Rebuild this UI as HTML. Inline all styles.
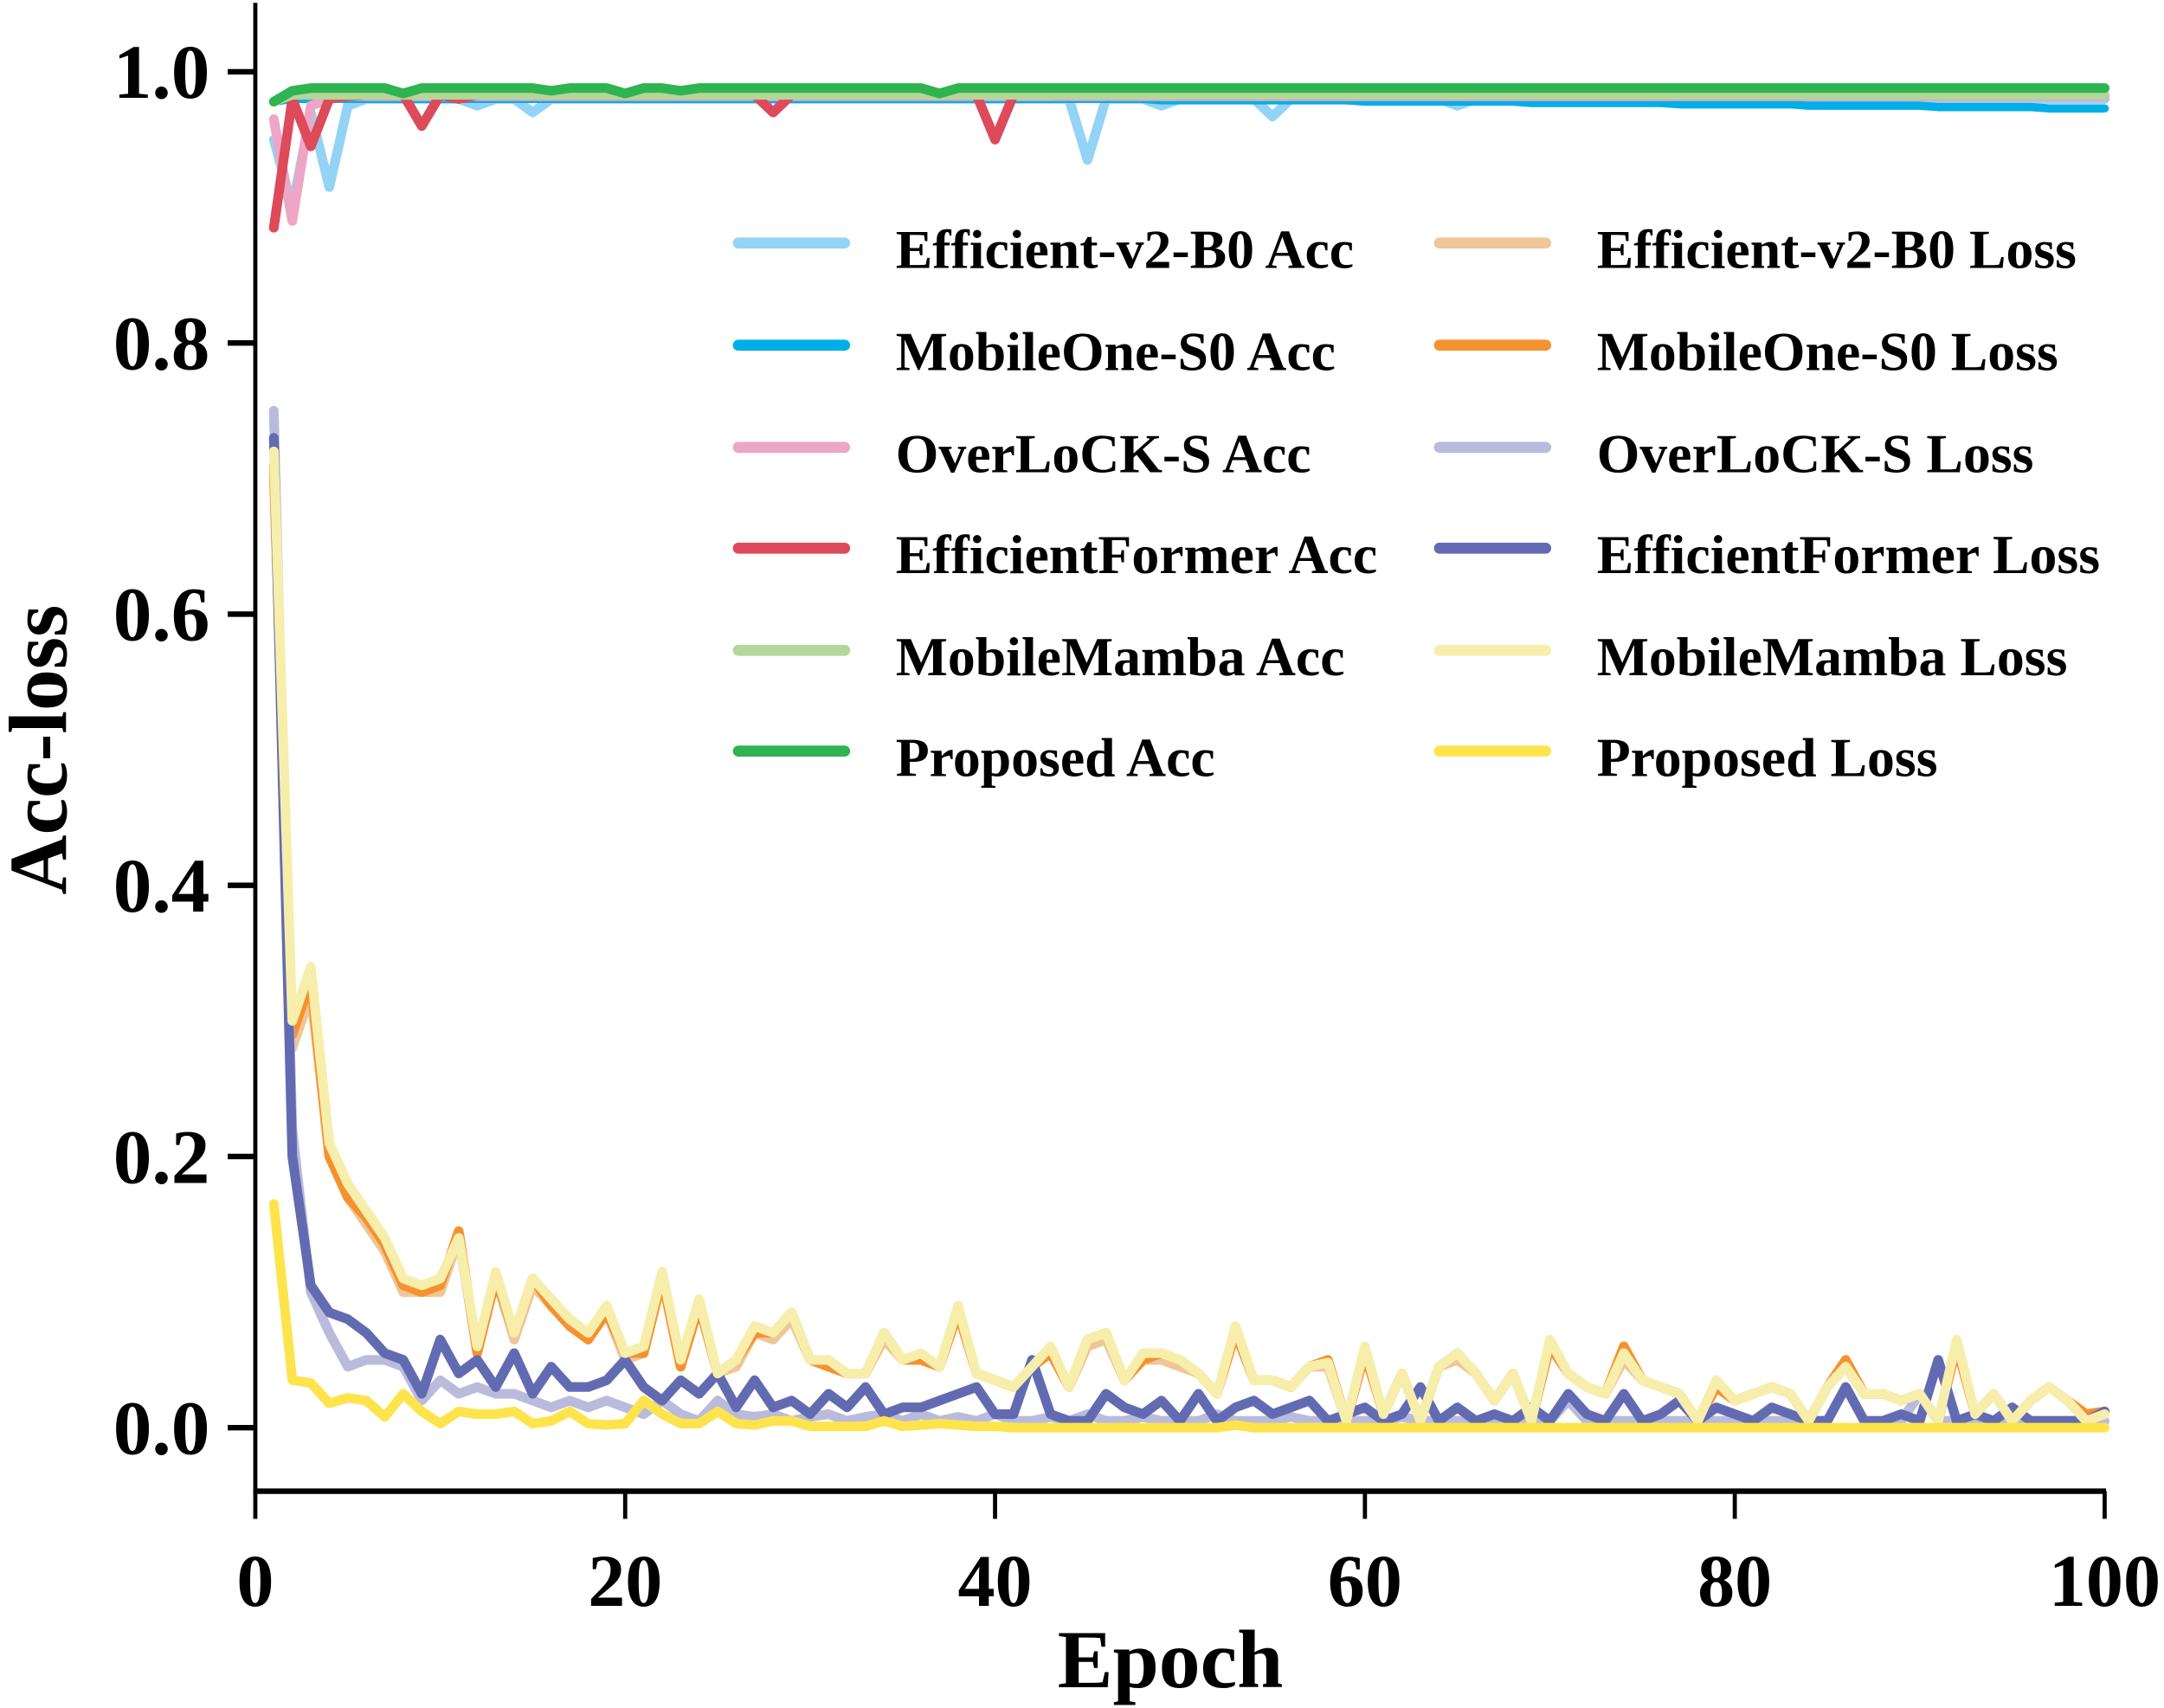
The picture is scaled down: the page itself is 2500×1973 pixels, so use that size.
<!DOCTYPE html>
<html><head><meta charset="utf-8"><style>
html,body{margin:0;padding:0;background:#fff;}
svg{display:block;}
text{font-family:"Liberation Serif",serif;font-weight:bold;fill:#000;}
</style></head><body>
<svg id="chart" width="2500" height="1973" viewBox="0 0 1568 1237" preserveAspectRatio="none" xmlns="http://www.w3.org/2000/svg">
<g id="series"></g>
<g id="axes"></g>
<g id="legend"></g>
</svg>
<script>
const xTicks=[0,20,40,60,80,100];
const yTicks=[0.0,0.2,0.4,0.6,0.8,1.0];
const yTickLabels=["0.0","0.2","0.4","0.6","0.8","1.0"];
const effAcc=[0.95,0.9,0.97,0.915,0.975,0.98,0.98,0.98,0.98,0.98,0.98,0.975,0.98,0.98,0.97,0.98,0.98,0.98,0.98,0.98,0.98,0.98,0.98,0.98,0.98,0.98,0.98,0.98,0.98,0.98,0.98,0.98,0.98,0.98,0.98,0.98,0.98,0.98,0.98,0.98,0.98,0.98,0.98,0.98,0.935,0.98,0.98,0.98,0.975,0.98,0.98,0.98,0.98,0.98,0.967,0.98,0.98,0.98,0.98,0.98,0.98,0.98,0.98,0.98,0.975,0.98,0.98,0.98,0.98,0.98,0.98,0.98,0.98,0.98,0.98,0.98,0.98,0.98,0.98,0.98,0.98,0.98,0.98,0.98,0.98,0.98,0.98,0.98,0.98,0.98,0.98,0.98,0.98,0.98,0.98,0.98,0.98,0.98,0.98,0.98];
const mobAcc=[0.978,0.98,0.98,0.98,0.98,0.98,0.98,0.98,0.98,0.98,0.98,0.98,0.98,0.98,0.98,0.98,0.98,0.98,0.98,0.98,0.98,0.98,0.98,0.98,0.98,0.98,0.98,0.98,0.98,0.98,0.98,0.98,0.98,0.98,0.98,0.98,0.98,0.98,0.98,0.98,0.98,0.98,0.98,0.98,0.98,0.98,0.98,0.98,0.979,0.979,0.979,0.979,0.979,0.979,0.979,0.979,0.979,0.979,0.979,0.978,0.978,0.978,0.978,0.978,0.978,0.978,0.978,0.978,0.977,0.977,0.977,0.977,0.977,0.977,0.977,0.977,0.976,0.976,0.976,0.976,0.976,0.976,0.976,0.975,0.975,0.975,0.975,0.975,0.975,0.975,0.974,0.974,0.974,0.974,0.974,0.974,0.973,0.973,0.973,0.973];
const overAcc=[0.965,0.89,0.975,0.98,0.982,0.982,0.982,0.982,0.982,0.982,0.982,0.982,0.982,0.982,0.982,0.982,0.982,0.982,0.982,0.982,0.982,0.982,0.982,0.982,0.982,0.982,0.982,0.982,0.982,0.982,0.982,0.982,0.982,0.982,0.982,0.982,0.982,0.982,0.982,0.982,0.982,0.982,0.982,0.982,0.982,0.982,0.982,0.982,0.982,0.982,0.982,0.982,0.982,0.982,0.982,0.982,0.982,0.982,0.982,0.982,0.982,0.982,0.982,0.982,0.982,0.982,0.982,0.982,0.982,0.982,0.982,0.982,0.982,0.982,0.982,0.982,0.982,0.982,0.982,0.982,0.982,0.982,0.982,0.982,0.982,0.982,0.982,0.982,0.982,0.982,0.982,0.982,0.982,0.982,0.982,0.982,0.982,0.982,0.982,0.982];
const formerAcc=[0.885,0.98,0.945,0.98,0.982,0.983,0.983,0.983,0.96,0.983,0.98,0.983,0.983,0.983,0.983,0.983,0.983,0.983,0.983,0.983,0.983,0.983,0.983,0.983,0.983,0.983,0.983,0.97,0.983,0.983,0.983,0.983,0.983,0.983,0.983,0.983,0.983,0.983,0.983,0.95,0.983,0.988,0.983,0.983,0.983,0.983,0.983,0.983,0.983,0.983,0.983,0.983,0.983,0.983,0.983,0.983,0.983,0.983,0.983,0.983,0.983,0.983,0.983,0.983,0.983,0.983,0.983,0.983,0.983,0.983,0.983,0.983,0.983,0.983,0.983,0.983,0.983,0.983,0.983,0.983,0.983,0.983,0.983,0.983,0.983,0.983,0.983,0.983,0.983,0.983,0.983,0.983,0.983,0.983,0.983,0.983,0.983,0.983,0.983,0.983];
const mambaAcc=[0.978,0.983,0.983,0.983,0.983,0.983,0.983,0.983,0.983,0.983,0.983,0.983,0.983,0.983,0.983,0.983,0.983,0.983,0.983,0.983,0.983,0.983,0.983,0.983,0.983,0.983,0.983,0.983,0.983,0.983,0.983,0.983,0.983,0.983,0.983,0.983,0.983,0.983,0.983,0.983,0.983,0.983,0.983,0.983,0.983,0.983,0.983,0.983,0.983,0.983,0.983,0.983,0.983,0.983,0.983,0.983,0.983,0.983,0.983,0.983,0.983,0.983,0.983,0.983,0.983,0.983,0.983,0.983,0.983,0.983,0.983,0.983,0.983,0.983,0.983,0.983,0.983,0.983,0.983,0.983,0.983,0.983,0.983,0.983,0.983,0.983,0.983,0.983,0.983,0.983,0.983,0.983,0.983,0.983,0.983,0.983,0.983,0.983,0.983,0.983];
const propAcc=[0.978,0.986,0.988,0.988,0.988,0.988,0.988,0.984,0.988,0.988,0.988,0.988,0.988,0.988,0.988,0.986,0.988,0.988,0.988,0.984,0.988,0.988,0.986,0.988,0.988,0.988,0.988,0.988,0.988,0.988,0.988,0.988,0.988,0.988,0.988,0.988,0.984,0.988,0.988,0.988,0.988,0.988,0.988,0.988,0.988,0.988,0.988,0.988,0.988,0.988,0.988,0.988,0.988,0.988,0.988,0.988,0.988,0.988,0.988,0.988,0.988,0.988,0.988,0.988,0.988,0.988,0.988,0.988,0.988,0.988,0.988,0.988,0.988,0.988,0.988,0.988,0.988,0.988,0.988,0.988,0.988,0.988,0.988,0.988,0.988,0.988,0.988,0.988,0.988,0.988,0.988,0.988,0.988,0.988,0.988,0.988,0.988,0.988,0.988,0.988];
const mambaLoss=[0.72,0.3,0.34,0.21,0.18,0.16,0.14,0.11,0.105,0.11,0.14,0.06,0.115,0.07,0.11,0.095,0.08,0.07,0.09,0.055,0.06,0.115,0.05,0.095,0.04,0.05,0.075,0.07,0.085,0.05,0.05,0.04,0.04,0.07,0.05,0.055,0.045,0.09,0.04,0.035,0.03,0.045,0.06,0.03,0.065,0.07,0.035,0.055,0.055,0.05,0.04,0.025,0.075,0.035,0.035,0.03,0.045,0.048,0.005,0.06,0.01,0.04,0.005,0.045,0.055,0.04,0.02,0.04,0.005,0.065,0.04,0.03,0.025,0.055,0.035,0.03,0.025,0.005,0.035,0.02,0.025,0.03,0.025,0.005,0.03,0.045,0.025,0.025,0.02,0.025,0.005,0.065,0.01,0.025,0.005,0.02,0.03,0.02,0.005,0.01];
const mobLoss=[0.71,0.29,0.33,0.2,0.17,0.155,0.135,0.105,0.1,0.105,0.145,0.055,0.11,0.07,0.11,0.09,0.075,0.065,0.085,0.055,0.055,0.11,0.045,0.09,0.04,0.05,0.07,0.07,0.085,0.05,0.045,0.04,0.04,0.07,0.05,0.05,0.045,0.085,0.04,0.035,0.03,0.045,0.055,0.03,0.065,0.07,0.035,0.05,0.055,0.05,0.04,0.025,0.07,0.035,0.035,0.03,0.045,0.05,0.005,0.055,0.01,0.04,0.005,0.045,0.055,0.04,0.02,0.04,0.005,0.06,0.04,0.03,0.025,0.06,0.035,0.03,0.025,0.005,0.03,0.02,0.025,0.03,0.025,0.005,0.03,0.05,0.025,0.025,0.02,0.025,0.005,0.06,0.01,0.025,0.005,0.02,0.03,0.02,0.01,0.012];
const effLoss=[0.7,0.28,0.32,0.2,0.17,0.15,0.13,0.1,0.1,0.1,0.14,0.055,0.11,0.065,0.105,0.09,0.075,0.065,0.085,0.05,0.055,0.11,0.045,0.09,0.04,0.045,0.07,0.065,0.08,0.05,0.045,0.04,0.04,0.065,0.05,0.05,0.045,0.085,0.04,0.035,0.03,0.045,0.055,0.03,0.06,0.065,0.035,0.05,0.05,0.045,0.04,0.025,0.07,0.035,0.035,0.03,0.045,0.045,0.005,0.055,0.01,0.04,0.005,0.045,0.05,0.04,0.02,0.04,0.005,0.06,0.04,0.03,0.025,0.05,0.035,0.03,0.025,0.005,0.03,0.02,0.025,0.03,0.025,0.005,0.03,0.045,0.025,0.025,0.02,0.025,0.005,0.06,0.01,0.025,0.005,0.02,0.03,0.02,0.005,0.01];
const overLoss=[0.75,0.22,0.1,0.07,0.045,0.05,0.05,0.045,0.02,0.035,0.025,0.03,0.025,0.025,0.02,0.015,0.02,0.015,0.02,0.015,0.01,0.02,0.01,0.005,0.02,0.01,0.008,0.01,0.005,0.008,0.01,0.005,0.008,0.01,0.005,0.01,0.005,0.008,0.005,0.01,0.005,0.005,0.008,0.005,0.01,0.005,0.005,0.008,0.005,0.005,0.005,0.01,0.005,0.005,0.005,0.008,0.005,0.005,0.005,0.005,0.005,0.008,0.005,0.005,0.005,0.005,0.005,0.005,0.005,0.005,0.02,0.005,0.005,0.005,0.005,0.005,0.005,0.005,0.005,0.005,0.005,0.005,0.005,0.005,0.005,0.03,0.005,0.005,0.005,0.025,0.005,0.005,0.005,0.005,0.005,0.005,0.005,0.005,0.005,0.005];
const formerLoss=[0.73,0.2,0.105,0.085,0.08,0.07,0.055,0.05,0.025,0.065,0.04,0.05,0.03,0.055,0.025,0.045,0.03,0.03,0.035,0.05,0.03,0.02,0.035,0.025,0.04,0.015,0.035,0.015,0.02,0.01,0.025,0.015,0.03,0.01,0.015,0.015,0.02,0.025,0.03,0.01,0.01,0.05,0.01,0.005,0.005,0.025,0.015,0.01,0.02,0.005,0.025,0.005,0.015,0.02,0.01,0.015,0.02,0.005,0.01,0.015,0.005,0.01,0.03,0.005,0.015,0.005,0.01,0.005,0.015,0.005,0.025,0.01,0.005,0.025,0.005,0.01,0.02,0.005,0.015,0.01,0.005,0.015,0.01,0.005,0.005,0.03,0.005,0.005,0.01,0.005,0.05,0.005,0.01,0.005,0.015,0.005,0.005,0.005,0.005,0.012];
const propLoss=[0.165,0.035,0.033,0.018,0.022,0.02,0.008,0.025,0.012,0.003,0.012,0.01,0.01,0.012,0.003,0.005,0.012,0.003,0.002,0.003,0.02,0.01,0.003,0.003,0.012,0.003,0.002,0.005,0.005,0.001,0.001,0.001,0.001,0.005,0.001,0.002,0.003,0.002,0.001,0.001,0,0,0,0,0,0,0,0,0,0,0,0,0.002,0,0,0,0,0,0,0,0,0,0,0,0,0,0,0,0,0,0,0,0,0,0,0,0,0,0,0,0,0,0,0,0,0,0,0,0,0,0,0,0,0,0,0,0,0,0,0];

const L=185,R=1525,T0=1034,T1=52;
const xs=e=>L+(e/100)*(R-L);
const ys=v=>T0-v*(T0-T1);
const NS="http://www.w3.org/2000/svg";
function mk(tag,attrs,parent){const el=document.createElementNS(NS,tag);for(const k in attrs)el.setAttribute(k,attrs[k]);parent.appendChild(el);return el;}

const series=[
 {name:"Efficient-v2-B0 Acc",data:effAcc,color:"#93d3f5",w:7},
 {name:"MobileOne-S0 Acc",data:mobAcc,color:"#00aee8",w:6},
 {name:"OverLoCK-S Acc",data:overAcc,color:"#eea6c6",w:7},
 {name:"EfficientFormer Acc",data:formerAcc,color:"#dd4a5a",w:7},
 {name:"MobileMamba Acc",data:mambaAcc,color:"#b3d69b",w:7},
 {name:"Proposed Acc",data:propAcc,color:"#2fb44f",w:7},
 {name:"Efficient-v2-B0 Loss",data:effLoss,color:"#efc698",w:7},
 {name:"MobileOne-S0 Loss",data:mobLoss,color:"#f5922f",w:7},
 {name:"OverLoCK-S Loss",data:overLoss,color:"#babbdc",w:7},
 {name:"EfficientFormer Loss",data:formerLoss,color:"#626bb2",w:7},
 {name:"MobileMamba Loss",data:mambaLoss,color:"#f7eeab",w:7},
 {name:"Proposed Loss",data:propLoss,color:"#fde44d",w:7}
];
const drawOrder=[6,7,8,9,10,11,0,1,2,3,4,5];
const sg=document.getElementById('series');
drawOrder.forEach(i=>{
 const s=series[i];
 const pts=s.data.map((v,k)=>xs(k+1).toFixed(2)+","+ys(v).toFixed(2)).join(" ");
 const pl=mk('polyline',{points:pts,fill:"none",stroke:s.color,"stroke-width":s.w,"stroke-linejoin":"round","stroke-linecap":"round"},sg);
 
 
});

const ag=document.getElementById('axes');
const yAxis=mk('line',{x1:L,y1:2,x2:L,y2:1082,stroke:"#000","stroke-width":3},ag);


const xAxis=mk('line',{x1:L-1,y1:1080,x2:R+1,y2:1080,stroke:"#000","stroke-width":4},ag);


yTicks.forEach((v,i)=>{
 const t=mk('line',{x1:L-20,y1:ys(v),x2:L,y2:ys(v),stroke:"#000","stroke-width":4},ag);
 
 
 const tx=mk('text',{x:152,y:ys(v)+19,"text-anchor":"end","font-size":56},ag);
 tx.textContent=yTickLabels[i];
 
 
});
xTicks.forEach(v=>{
 const t=mk('line',{x1:xs(v),y1:1080,x2:xs(v),y2:1100,stroke:"#000","stroke-width":3},ag);
 
 
 const tx=mk('text',{x:xs(v),y:1163,"text-anchor":"middle","font-size":54},ag);
 tx.textContent=String(v);
 
 
});
const xt=mk('text',{x:848,y:1222,"text-anchor":"middle","font-size":60},ag);
xt.textContent="Epoch";


const yt=mk('text',{x:0,y:0,"text-anchor":"middle","font-size":60,transform:"translate(48,543) rotate(-90)"},ag);
yt.textContent="Acc-loss";



const lg=document.getElementById('legend');
const rowsY=[182,256,330,403,477,550];
series.forEach((s,i)=>{
 const col=i<6?0:1, row=i%6;
 const lx=col?1040:532, tx0=col?1157:649;
 const g=mk('g',{},lg);
 
 
 mk('line',{x1:lx+3,y1:rowsY[row]-6,x2:lx+80,y2:rowsY[row]-6,stroke:s.color,"stroke-width":8,"stroke-linecap":"round"},g);
 const t=mk('text',{x:tx0,y:rowsY[row]+12,"font-size":40},g);
 t.textContent=s.name;
});
</script>
</body></html>
